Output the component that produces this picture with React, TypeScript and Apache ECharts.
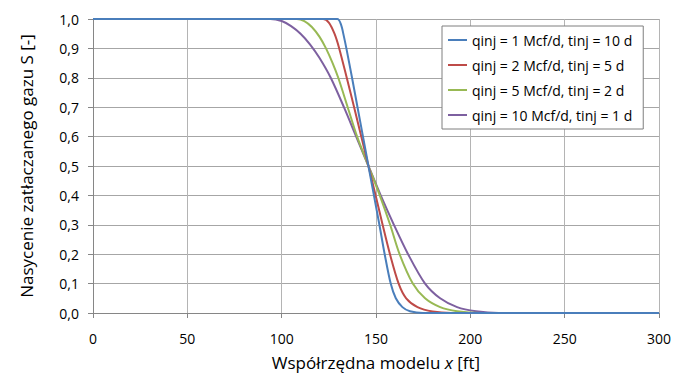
import React, { useEffect, useRef } from "react";
import * as echarts from "echarts";

const seriesNames = [
  "qinj = 1 Mcf/d, tinj = 10 d",
  "qinj = 2 Mcf/d, tinj = 5 d",
  "qinj = 5 Mcf/d, tinj = 2 d",
  "qinj = 10 Mcf/d, tinj = 1 d",
];
const seriesColors = ["#4A7EBB", "#BE4B48", "#98B954", "#7D60A0"];

const xBlue = [0, 129.5, 131.5, 133, 134.3, 137.3, 140.2, 143.1, 146, 148.9, 151.8, 154.6, 157.8, 160.5, 164, 168, 175, 300];
const yBlue = [1, 1, 0.98, 0.94, 0.9, 0.8, 0.7, 0.6, 0.5, 0.4, 0.3, 0.2, 0.1, 0.05, 0.02, 0.006, 0, 0];

const xRed = [0, 122, 125, 128, 130.5, 134.5, 138.4, 142.2, 146, 149.8, 153.5, 157.4, 162, 166, 172, 180, 190, 300];
const yRed = [1, 1, 0.988, 0.95, 0.9, 0.8, 0.7, 0.6, 0.5, 0.4, 0.3, 0.2, 0.1, 0.05, 0.02, 0.005, 0, 0];

const xGreen = [0, 108, 112, 116, 120, 123.5, 127, 130, 135, 140, 146, 152, 157.5, 162.5, 169.5, 176, 184, 193, 205, 300];
const yGreen = [1, 1, 0.993, 0.973, 0.94, 0.9, 0.85, 0.8, 0.7, 0.6, 0.5, 0.4, 0.3, 0.2, 0.1, 0.05, 0.02, 0.006, 0, 0];

const xPurple = [0, 94, 100, 105, 110, 115, 120, 126, 133, 139.5, 146, 152.5, 159.5, 167, 176, 184, 193, 203, 215, 300];
const yPurple = [1, 1, 0.993, 0.976, 0.95, 0.914, 0.868, 0.8, 0.7, 0.6, 0.5, 0.4, 0.3, 0.2, 0.1, 0.05, 0.02, 0.006, 0, 0];

const xTicks = { min: 0, max: 300, interval: 50 };
const yTicks = { min: 0, max: 1, interval: 0.1 };

const FONT = '"Open Sans", "Noto Sans", sans-serif';

export default function App() {
  const ref = useRef<HTMLDivElement>(null);
  useEffect(() => {
    if (!ref.current) return;
    const chart = echarts.init(ref.current, null, { renderer: "svg" });
    const xs = [xBlue, xRed, xGreen, xPurple];
    const ys = [yBlue, yRed, yGreen, yPurple];
    chart.setOption({
      animation: false,
      backgroundColor: "#fff",
      textStyle: { fontFamily: FONT },
      grid: { left: 93, right: 16, top: 19, bottom: 65 },
      legend: {
        orient: "vertical",
        left: 442,
        top: 26,
        width: 215,
        padding: [7, 11, 7, 6],
        itemGap: 11,
        itemWidth: 19,
        itemHeight: 2,
        icon: "rect",
        backgroundColor: "#fff",
        borderColor: "#7F7F7F",
        borderWidth: 1,
        textStyle: { fontSize: 14, color: "#000", fontFamily: FONT, lineHeight: 14 },
        data: seriesNames,
      },
      xAxis: {
        type: "value",
        min: xTicks.min,
        max: xTicks.max,
        interval: xTicks.interval,
        name: "{a|Współrzędna modelu }{i|x}{a| [ft]}",
        nameLocation: "middle",
        nameGap: 41,
        nameTextStyle: {
          rich: {
            a: { fontSize: 17, color: "#000", fontFamily: FONT },
            i: { fontSize: 17, color: "#000", fontFamily: FONT, fontStyle: "italic" },
          },
        },
        axisLine: { show: true, lineStyle: { color: "#868686", width: 1 } },
        axisTick: { show: true, inside: false, length: 5, lineStyle: { color: "#868686" } },
        axisLabel: { margin: 18, fontSize: 14, color: "#000", fontFamily: FONT },
        splitLine: { show: true, lineStyle: { color: "#B4B4B4", width: 1 } },
      },
      yAxis: {
        type: "value",
        min: yTicks.min,
        max: yTicks.max,
        interval: yTicks.interval,
        name: "Nasycenie zatłaczanego gazu S [-]",
        nameLocation: "middle",
        nameGap: 58,
        nameTextStyle: { fontSize: 17, color: "#000", fontFamily: FONT },
        axisLine: { show: true, lineStyle: { color: "#868686", width: 1 } },
        axisTick: { show: true, inside: false, length: 5, lineStyle: { color: "#868686" } },
        axisLabel: {
          margin: 14,
          fontSize: 14,
          color: "#000",
          fontFamily: FONT,
          formatter: (v: number) => v.toFixed(1).replace(".", ","),
        },
        splitLine: { show: true, lineStyle: { color: "#A6A6A6", width: 1 } },
      },
      series: seriesNames.map((name, i) => ({
        name,
        type: "line",
        showSymbol: false,
        symbol: "none",
        smooth: 0.3,
        clip: true,
        color: seriesColors[i],
        lineStyle: { width: 2, color: seriesColors[i] },
        data: xs[i].map((x, j) => [x, ys[i][j]]),
        z: 10 - i,
      })).reverse(),
    });
    return () => chart.dispose();
  }, []);
  return <div ref={ref} style={{ width: 675, height: 378, position: "absolute", left: 0, top: 0 }} />;
}
